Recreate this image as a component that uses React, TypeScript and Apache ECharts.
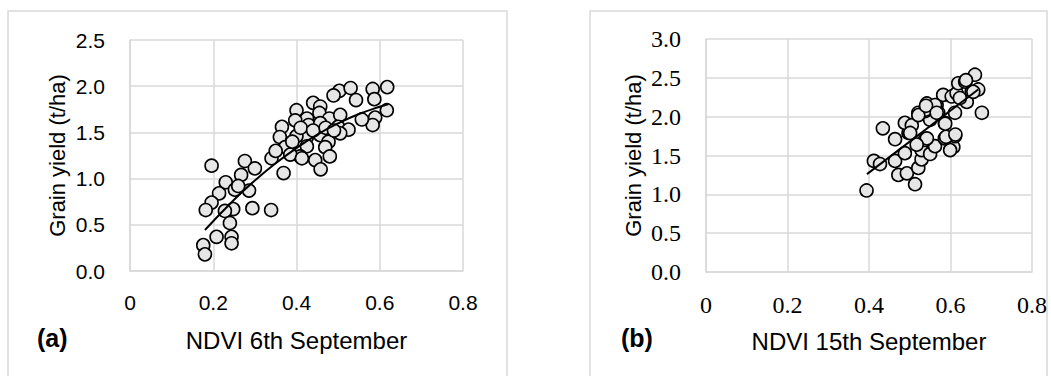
import React, { useEffect, useRef } from "react";
import * as echarts from "echarts";

const xTicksLabel = (v: number) => (v === 0 ? "0" : v.toFixed(1));

const pointsA: [number, number][] = [
  [0.196, 1.14], [0.276, 1.19], [0.3, 1.11], [0.267, 1.04], [0.23, 0.96], [0.252, 0.88],
  [0.286, 0.87], [0.214, 0.84], [0.196, 0.74], [0.182, 0.66], [0.248, 0.67], [0.228, 0.65],
  [0.294, 0.68], [0.339, 0.66], [0.24, 0.52], [0.208, 0.37], [0.244, 0.37], [0.244, 0.3],
  [0.176, 0.28], [0.18, 0.18], [0.369, 1.06], [0.34, 1.22], [0.503, 1.95], [0.489, 1.9],
  [0.53, 1.98], [0.543, 1.85], [0.583, 1.97], [0.618, 1.99], [0.587, 1.86], [0.617, 1.74],
  [0.589, 1.66], [0.583, 1.58], [0.557, 1.64], [0.44, 1.82], [0.457, 1.78], [0.455, 1.71],
  [0.479, 1.65], [0.505, 1.69], [0.425, 1.65], [0.429, 1.58], [0.457, 1.6], [0.5, 1.56],
  [0.525, 1.53], [0.505, 1.49], [0.457, 1.47], [0.425, 1.45], [0.477, 1.4], [0.425, 1.35],
  [0.469, 1.34], [0.48, 1.24], [0.445, 1.2], [0.458, 1.1], [0.409, 1.24], [0.4, 1.74],
  [0.397, 1.63], [0.365, 1.56], [0.36, 1.45], [0.4, 1.46], [0.373, 1.34], [0.385, 1.26],
  [0.413, 1.22], [0.41, 1.55], [0.39, 1.4], [0.35, 1.3], [0.44, 1.52], [0.47, 1.55],
  [0.49, 1.52], [0.26, 0.92],
];

const trendAx = [0.18, 0.25, 0.3, 0.35, 0.4, 0.45, 0.5, 0.55, 0.6, 0.62];
const trendAy = [0.444, 0.772, 0.98, 1.166, 1.331, 1.476, 1.598, 1.699, 1.778, 1.805];

const pointsB: [number, number][] = [
  [0.394, 1.05], [0.434, 1.85], [0.412, 1.43], [0.427, 1.39], [0.464, 1.71], [0.464, 1.43],
  [0.472, 1.25], [0.493, 1.27], [0.513, 1.13], [0.521, 1.34], [0.488, 1.53], [0.529, 1.45],
  [0.529, 1.57], [0.55, 1.52], [0.562, 1.62], [0.607, 1.61], [0.599, 1.57], [0.537, 1.7],
  [0.586, 1.72], [0.611, 1.75], [0.542, 1.72], [0.497, 1.79], [0.488, 1.92], [0.505, 1.89],
  [0.55, 1.96], [0.586, 1.92], [0.521, 2.05], [0.537, 2.07], [0.542, 2.17], [0.57, 2.05],
  [0.611, 2.05], [0.566, 2.15], [0.582, 2.28], [0.603, 2.26], [0.615, 2.3], [0.619, 2.43],
  [0.636, 2.45], [0.66, 2.54], [0.652, 2.32], [0.668, 2.35], [0.677, 2.05], [0.64, 2.19],
  [0.623, 2.24], [0.517, 1.64], [0.501, 1.79], [0.539, 2.09], [0.521, 2.02], [0.562, 2.15],
  [0.54, 2.14], [0.656, 2.32], [0.638, 2.47], [0.589, 1.74], [0.612, 1.77], [0.587, 1.91],
  [0.566, 2.05],
];

const trendBx = [0.395, 0.668];
const trendBy = [1.26, 2.35];

const titleA = "NDVI 6th September";
const titleB = "NDVI 15th September";
const yName = "Grain yield (t/ha)";

export default function App() {
  const ref = useRef<HTMLDivElement>(null);
  useEffect(() => {
    if (!ref.current) return;
    const chart = echarts.init(ref.current, undefined, { renderer: "svg" });
    const gridColor = "#d9d9d9";
    const sans = "Liberation Sans, Arial, sans-serif";
    const serif = "Liberation Serif, serif";
    const mkX = (idx: number, name: string, font: string, size: number) => ({
      type: "value",
      gridIndex: idx,
      min: 0,
      max: 0.8,
      interval: 0.2,
      name,
      nameLocation: "middle",
      nameGap: 57,
      nameTextStyle: { fontFamily: sans, fontSize: 24, color: "#000" },
      axisLine: { show: true, lineStyle: { color: gridColor, width: 1.5 } },
      axisTick: { show: false },
      splitLine: { show: true, lineStyle: { color: gridColor, width: 1.5 } },
      axisLabel: { formatter: xTicksLabel, fontFamily: font, fontSize: size, color: "#000", margin: 21 },
    });
    const mkY = (idx: number, max: number, font: string, size: number) => ({
      type: "value",
      gridIndex: idx,
      min: 0,
      max,
      interval: 0.5,
      name: yName,
      nameLocation: "middle",
      nameGap: 62,
      nameTextStyle: { fontFamily: sans, fontSize: 22, color: "#000" },
      axisLine: { show: true, lineStyle: { color: gridColor, width: 1.5 } },
      axisTick: { show: false },
      splitLine: { show: true, lineStyle: { color: gridColor, width: 1.5 } },
      axisLabel: { formatter: (v: number) => v.toFixed(1), fontFamily: font, fontSize: size, color: "#000", margin: 25 },
    });
    const scatterStyle = {
      symbol: "circle",
      symbolSize: 13,
      itemStyle: { color: "#e6e6e6", borderColor: "#000", borderWidth: 1.6, opacity: 1 },
    };
    chart.setOption({
      animation: false,
      grid: [
        { left: 130, top: 40, width: 333, height: 231 },
        { left: 706, top: 39, width: 326, height: 233 },
      ],
      xAxis: [mkX(0, titleA, sans, 21), mkX(1, titleB, serif, 24)],
      yAxis: [mkY(0, 2.5, sans, 21), mkY(1, 3.0, serif, 24)],
      series: [
        { type: "scatter", xAxisIndex: 0, yAxisIndex: 0, data: pointsA, ...scatterStyle, z: 2 },
        {
          type: "line", xAxisIndex: 0, yAxisIndex: 0, smooth: true, showSymbol: false, symbol: "none",
          data: trendAx.map((x, i) => [x, trendAy[i]]),
          lineStyle: { color: "#000", width: 2 }, z: 3,
        },
        { type: "scatter", xAxisIndex: 1, yAxisIndex: 1, data: pointsB, ...scatterStyle, z: 2 },
        {
          type: "line", xAxisIndex: 1, yAxisIndex: 1, showSymbol: false, symbol: "none",
          data: trendBx.map((x, i) => [x, trendBy[i]]),
          lineStyle: { color: "#000", width: 2 }, z: 3,
        },
      ],
      graphic: [
        { type: "rect", shape: { x: 8, y: 11, width: 499, height: 380 }, style: { fill: "none", stroke: gridColor, lineWidth: 1.5 }, silent: true },
        { type: "rect", shape: { x: 590, y: 11, width: 457, height: 380 }, style: { fill: "none", stroke: gridColor, lineWidth: 1.5 }, silent: true },
        { type: "text", left: 37, top: 325, style: { text: "(a)", font: "bold 25px Liberation Sans, Arial, sans-serif", fill: "#000" } },
        { type: "text", left: 621, top: 325, style: { text: "(b)", font: "bold 25px Liberation Sans, Arial, sans-serif", fill: "#000" } },
      ],
    });
    return () => chart.dispose();
  }, []);
  return <div ref={ref} style={{ position: "absolute", left: 0, top: 0, width: 1051, height: 376 }} />;
}
